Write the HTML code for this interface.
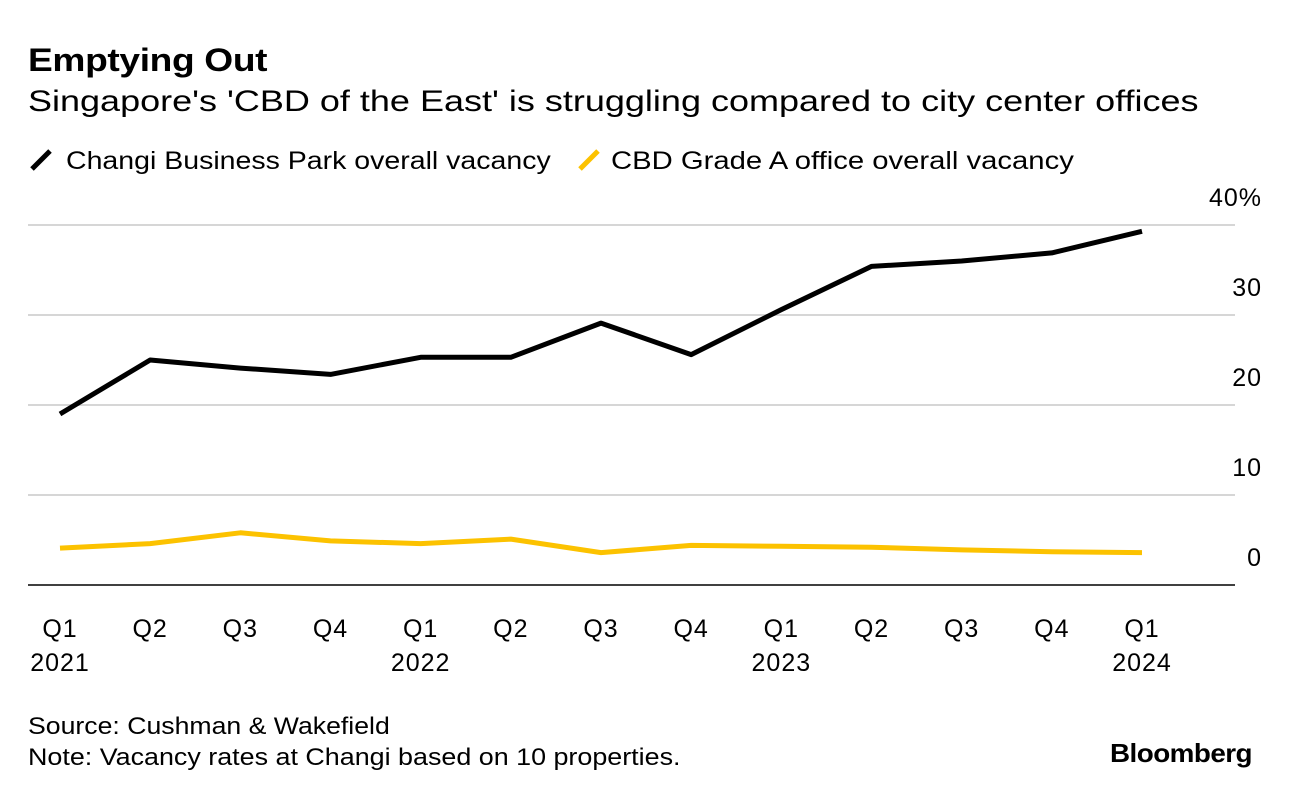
<!DOCTYPE html>
<html><head><meta charset="utf-8"><style>
body{margin:0;width:1289px;height:798px;background:#fff;font-family:"Liberation Sans",sans-serif;color:#000;overflow:hidden;position:relative}
.t{position:absolute;white-space:nowrap;transform-origin:0 0}
</style></head><body>
<div class="t" style="left:28px;top:42px;font-size:32px;font-weight:bold;letter-spacing:-0.3px;transform:scaleX(1.16)">Emptying Out</div>
<div class="t" style="left:28px;top:85px;font-size:30px;transform:scaleX(1.2)">Singapore's 'CBD of the East' is struggling compared to city center offices</div>
<div class="t" style="left:28px;top:147px;font-size:25px"><svg width="38" height="26" style="vertical-align:-4px"><line x1="4" y1="22" x2="22" y2="4" stroke="#000" stroke-width="5"/></svg><span style="display:inline-block;transform:scaleX(1.14);transform-origin:0 0">Changi Business Park overall vacancy</span></div>
<div class="t" style="left:576px;top:147px;font-size:25px"><svg width="35" height="26" style="vertical-align:-4px"><line x1="4" y1="22" x2="22" y2="4" stroke="#fcc200" stroke-width="5"/></svg><span style="display:inline-block;transform:scaleX(1.17);transform-origin:0 0">CBD Grade A office overall vacancy</span></div>
<svg id="chart" width="1289" height="798" style="position:absolute;left:0;top:0"></svg>
<div class="t" style="left:28px;top:713px;font-size:24px;transform:scaleX(1.11)">Source: Cushman &amp; Wakefield</div>
<div class="t" style="left:28px;top:744px;font-size:24px;transform:scaleX(1.12)">Note: Vacancy rates at Changi based on 10 properties.</div>
<div class="t" style="left:1110px;top:738px;font-size:26px;font-weight:bold;letter-spacing:-0.5px;transform:scaleX(1.07)">Bloomberg</div>
<script>
const quarters=["Q1","Q2","Q3","Q4","Q1","Q2","Q3","Q4","Q1","Q2","Q3","Q4","Q1"];
const years=["2021","","","","2022","","","","2023","","","","2024"];
const changi=[19,25,24.1,23.4,25.3,25.3,29.1,25.6,30.6,35.4,36,36.9,39.3];
const cbd=[4.1,4.6,5.8,4.9,4.6,5.1,3.6,4.4,4.3,4.2,3.9,3.7,3.6];
const yTicks=[0,10,20,30,40];
const yTickLabels=["0","10","20","30","40%"];
const svg=document.getElementById('chart');const NS="http://www.w3.org/2000/svg";
const x=i=>60+i*(1142-60)/12;const y=v=>585-v*9;
function mk(t,a){const e=document.createElementNS(NS,t);for(const k in a)e.setAttribute(k,a[k]);svg.appendChild(e);return e;}
yTicks.forEach((v,i)=>{
 const l=mk('line',{x1:28,x2:1235,y1:y(v),y2:y(v),stroke:v===0?'#000':'#d6d6d6','stroke-width':v===0?1.5:2});
 
 
 const t=mk('text',{x:1262,y:y(v)-19,'text-anchor':'end','font-size':25,'font-family':'Liberation Sans','letter-spacing':1});
 t.textContent=yTickLabels[i];
 
 
});
quarters.forEach((q,i)=>{
 const t=mk('text',{x:x(i),y:637,'text-anchor':'middle','font-size':25,'font-family':'Liberation Sans','letter-spacing':1});t.textContent=q;
 
 
 if(years[i]){const t2=mk('text',{x:x(i),y:671,'text-anchor':'middle','font-size':25,'font-family':'Liberation Sans','letter-spacing':1});t2.textContent=years[i];
 
 }
});
function line(d,c,n){const p=mk('polyline',{points:d.map((v,i)=>x(i)+','+y(v)).join(' '),fill:'none',stroke:c,'stroke-width':5,'stroke-linejoin':'round'});
 
 }
line(cbd,'#fcc200','cbd-line');
line(changi,'#000','changi-line');
</script>
</body></html>
